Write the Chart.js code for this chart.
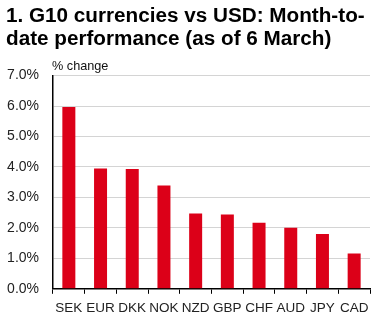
<!DOCTYPE html>
<html>
<head>
<meta charset="utf-8">
<script src="https://cdn.jsdelivr.net/npm/chart.js@4.4.0/dist/chart.umd.min.js"></script>
<style>
  html, body { margin: 0; padding: 0; background: #fff; }
  #wrap { position: relative; width: 386px; height: 325px; }
</style>
</head>
<body>
<div id="wrap"><canvas id="fxChart"></canvas></div>
<script>
// G10 currencies vs USD, month-to-date % change
var currencies = ['SEK', 'EUR', 'DKK', 'NOK', 'NZD', 'GBP', 'CHF', 'AUD', 'JPY', 'CAD'];
var pctChange = [5.97, 3.95, 3.93, 3.39, 2.47, 2.44, 2.17, 2.0, 1.8, 1.16];
var yTicks = [0, 1, 2, 3, 4, 5, 6, 7];

var fontFam = '"Liberation Sans", Arial, sans-serif';

// small label above the y axis
var unitLabel = {
    id: 'unitLabel',
    afterDraw: function(chart) {
        var ctx = chart.ctx;
        ctx.save();
        ctx.font = '12.7px ' + fontFam;
        ctx.fillStyle = '#111';
        ctx.textBaseline = 'alphabetic';
        ctx.fillText('% change', chart.chartArea.left - 1, chart.chartArea.top - 6);
        ctx.restore();
    }
};

var ctx = document.getElementById('fxChart').getContext('2d');
var fxChart = new Chart(ctx, {
    type: 'bar',
    data: {
        labels: currencies,
        datasets: [{
            label: '% change',
            data: pctChange,
            backgroundColor: '#DC0018',
            borderWidth: 0,
            barPercentage: 0.5,
            categoryPercentage: 0.82
        }]
    },
    options: {
        responsive: true,
        maintainAspectRatio: false,
        animation: false,
        layout: { padding: { left: 6, right: 16, top: 0, bottom: 3 } },
        plugins: {
            legend: { display: false },
            tooltip: { enabled: false },
            title: {
                display: true,
                align: 'start',
                text: ['1. G10 currencies vs USD: Month-to-', 'date performance (as of 6 March)'],
                color: '#000',
                font: { family: fontFam, size: 20.7, weight: 'bold', lineHeight: 1.1 },
                padding: { top: 5, bottom: 25 }
            }
        },
        scales: {
            x: {
                grid: { display: true, drawOnChartArea: false, tickLength: 5, tickColor: '#000', offset: true },
                border: { color: '#000', width: 1.5 },
                ticks: {
                    color: '#222',
                    padding: 6,
                    maxRotation: 0,
                    autoSkip: false,
                    font: { family: fontFam, size: 13.5 }
                }
            },
            y: {
                min: 0,
                max: 7,
                afterBuildTicks: function(axis) {
                    axis.ticks = yTicks.map(function(v) { return { value: v }; });
                },
                afterFit: function(axis) { axis.width = 47; },
                grid: { color: '#d4d4d4', drawTicks: false },
                border: { color: '#000', width: 1.5 },
                ticks: {
                    color: '#222',
                    padding: 14,
                    font: { family: fontFam, size: 14 },
                    callback: function(v) { return v.toFixed(1) + '%'; }
                }
            }
        }
    },
    plugins: [unitLabel]
});
</script>
</body>
</html>
